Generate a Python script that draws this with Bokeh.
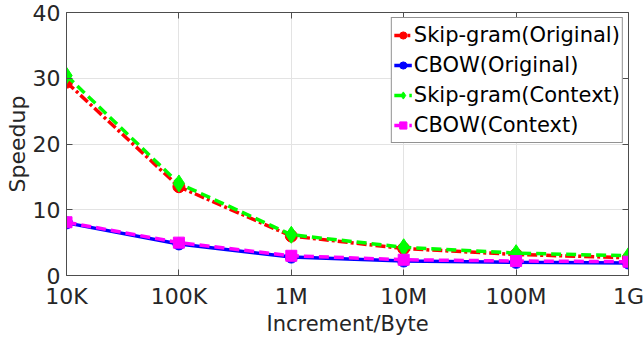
from bokeh.plotting import figure
from bokeh.models import LogAxis, FixedTicker, Legend, LegendItem, Range1d, LinearAxis
from bokeh.embed import file_html
from bokeh.resources import INLINE

x_vals = [1e4, 1e5, 1e6, 1e7, 1e8, 1e9]
x_labels = ["10K", "100K", "1M", "10M", "100M", "1G"]
skip_orig = [29.4, 13.5, 6.0, 4.1, 3.2, 2.7]
cbow_orig = [8.0, 4.8, 2.8, 2.2, 2.0, 1.9]
skip_ctx = [30.4, 14.0, 6.2, 4.3, 3.4, 3.0]
cbow_ctx = [8.1, 5.0, 3.0, 2.4, 2.2, 2.1]
y_ticks = [0, 10, 20, 30, 40]

FONT = "DejaVu Sans"
AX = "#4d4d4d"

p = figure(width=644, height=338, x_axis_type="log", output_backend="svg",
           toolbar_location=None, x_range=Range1d(1e4, 1e9), y_range=Range1d(0, 40),
           min_border_left=66, min_border_right=16, min_border_top=12, min_border_bottom=63)
p.outline_line_color = None
p.background_fill_color = "white"

def style_axis(ax, labels=True):
    ax.axis_line_color = AX
    ax.major_tick_line_color = AX
    ax.minor_tick_line_color = None
    ax.major_tick_in = 6
    ax.major_tick_out = 0
    ax.major_label_text_font = FONT
    ax.major_label_text_font_size = "22px"
    ax.major_label_text_color = "#262626"
    ax.axis_label_text_font = FONT
    ax.axis_label_text_font_size = "21px"
    ax.axis_label_text_font_style = "normal"
    ax.axis_label_text_color = "#262626"
    if not labels:
        ax.major_label_text_font_size = "0px"
        ax.major_label_text_alpha = 0

xt = FixedTicker(ticks=x_vals)
yt = FixedTicker(ticks=y_ticks)

p.xaxis.ticker = xt
p.xaxis.major_label_overrides = {v: l for v, l in zip(x_vals, x_labels)}
p.xaxis.axis_label = "Increment/Byte"
p.xaxis.major_label_standoff = 8
p.xaxis.axis_label_standoff = 0
p.yaxis.ticker = yt
p.yaxis.axis_label = "Speedup"
p.yaxis.major_label_standoff = 6
p.yaxis.axis_label_standoff = 0
style_axis(p.xaxis[0])
style_axis(p.yaxis[0])
p.yaxis.axis_label_text_font_size = "22px"

top = LogAxis(ticker=xt)
style_axis(top, labels=False)
top.major_label_overrides = {v: "" for v in x_vals}
p.add_layout(top, "above")
right = LinearAxis(ticker=yt)
style_axis(right, labels=False)
right.major_label_overrides = {v: "" for v in y_ticks}
p.add_layout(right, "right")

p.xgrid.ticker = xt
p.ygrid.ticker = yt
p.xgrid.grid_line_color = "#e3e3e3"
p.ygrid.grid_line_color = "#e3e3e3"

LW = 3.5
r1 = p.line(x_vals, skip_orig, line_color="#ff0000", line_width=LW, line_dash="10 3 3 3")
s1 = p.scatter(x_vals, skip_orig, marker="circle", size=12, color="#ff0000")
r2 = p.line(x_vals, cbow_orig, line_color="#0000ff", line_width=LW)
s2 = p.scatter(x_vals, cbow_orig, marker="circle", size=12, color="#0000ff")
r3 = p.line(x_vals, skip_ctx, line_color="#00ff00", line_width=LW, line_dash="10 5")
s3 = p.scatter(x_vals, skip_ctx, marker="diamond", size=17, color="#00ff00")
r4 = p.line(x_vals, cbow_ctx, line_color="#ff00ff", line_width=LW, line_dash="10 5")
s4 = p.scatter(x_vals, cbow_ctx, marker="square", size=11, color="#ff00ff")

legend = Legend(items=[
    LegendItem(label="Skip-gram(Original)", renderers=[r1, s1]),
    LegendItem(label="CBOW(Original)", renderers=[r2, s2]),
    LegendItem(label="Skip-gram(Context)", renderers=[r3, s3]),
    LegendItem(label="CBOW(Context)", renderers=[r4, s4]),
], location="top_right")
legend.label_text_font = FONT
legend.label_text_font_size = "21px"
legend.label_text_color = "black"
legend.label_height = 30
legend.glyph_height = 30
legend.glyph_width = 18
legend.label_standoff = 2
legend.spacing = 0
legend.padding = 2
legend.margin = 5
legend.border_line_color = "#262626"
legend.border_line_width = 1
legend.background_fill_color = "white"
legend.background_fill_alpha = 1
p.add_layout(legend, "center")

open("out.html", "w").write(file_html(p, INLINE))
